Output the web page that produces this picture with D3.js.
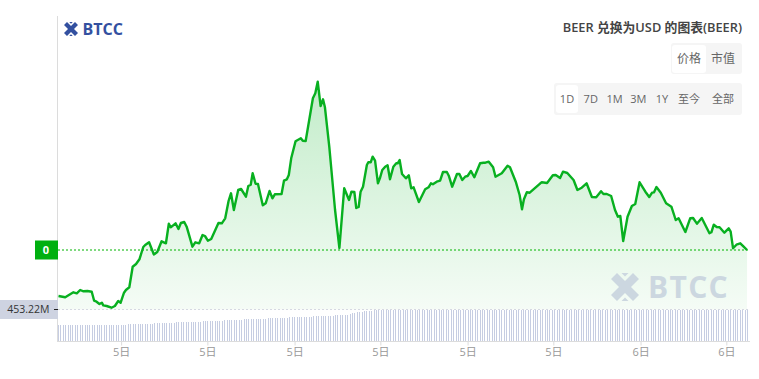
<!DOCTYPE html>
<html>
<head>
<meta charset="utf-8">
<script src="https://cdn.jsdelivr.net/npm/d3@7"></script>
<style>
  html, body { margin: 0; padding: 0; background: #fff; overflow: hidden; }
  svg { display: block; font-family: "Open Sans", "Noto Sans CJK SC", sans-serif; }
</style>
</head>
<body>
<div id="chart"></div>
<script>
// minutes since the start of the 1D window
const priceMinutes = [
  1,15,32,39,46,53,61,70,75,80,86,91,94,101,111,118,125,130,137,141,148,155,162,169,177,181,189,199,206,215,
  224,230,234,244,250,255,262,267,279,285,293,300,305,311,318,333,340,347,354,359,365,374,380,390,395,400,404,410,415,425,
  431,439,445,450,464,469,475,479,484,493,504,508,514,529,534,539,545,550,554,563,575,584,594,604,609,615,619,624,628,633,
  641,644,649,653,658,664,668,673,679,684,689,696,702,705,709,714,722,728,733,738,749,762,769,774,778,786,793,799,807,811,
  818,828,833,839,845,850,857,864,876,883,887,894,903,908,921,933,938,950,958,963,967,973,979,1001,1004,1015,1027,1033,1042,1048,
  1057,1070,1078,1087,1097,1108,1117,1127,1132,1139,1148,1156,1162,1167,1173,1182,1191,1198,1207,1219,1227,1233,1237,1242,1251,1262,1273,1282,1288,1302,
  1312,1318,1326,1336,1352,1356,1361,1367,1373,1383,1392,1396,1401,1408,1416,1423,1430
];
// price, in chart units (the site rounds it to 0 on the label)
const priceValues = [
  54,52.7,57.7,56.7,60,58.7,59,58.3,49.3,48.3,46,47.3,44.7,44,42.3,44,49,47.3,57.3,60,62.7,83.3,86,90.7,103,105,107.7,95.5,98,108.7,
  106.7,126.3,122.7,126.7,121,127,128,123.3,103.3,107.7,106.7,115,114,109.3,111,127,126.7,131.7,149,156.7,140,160,161,153.3,164,165.3,176.7,166.3,166,144.7,
  146.7,159,151.7,155.7,156,169.3,170.7,175,191.7,208.7,211.7,209.3,209,251.7,256.7,268.3,244,250.7,242.7,203.3,140,102,161.7,150,158.3,158,142,143,158.3,163.3,
  185,187.7,187.7,193.3,189.3,166.7,171.7,180,183.3,184.7,170.7,183.3,186.7,186.7,190,176,171.7,174.7,161.7,162.7,148,160.7,162.7,166.7,165.7,168.3,169.3,178,178,174.3,
  163.3,176,176,170,173.3,174,179,172.7,186.7,187.3,187.3,188.3,182.7,173.3,176.7,184.3,182.7,168.3,155,140.7,150.7,157.7,157.3,166.7,167.7,167,174.7,175,172,178.3,
  177,170,160,162.3,166.7,153,152.7,158.7,156,156,154,140,133.3,134,109,133.3,144,146,167.7,158.3,153,157.3,157.7,163,157.3,146.7,143.3,130,131.7,118,
  131.7,132,126.3,132,116.7,117.7,125.3,123,122.7,117.3,121.7,118.3,101.7,105.3,106.7,103.3,100
];
// volume in millions, one bar every 5 minutes
const volumeValues = [
  230,231,231,230,231,232,231,231,230,231,232,231,
  231,231,232,231,230,231,231,232,231,231,231,232,
  232,232,233,233,236,240,244,246,247,247,248,248,
  249,250,250,252,254,256,258,260,262,264,264,265,
  266,268,268,270,270,272,274,276,278,279,280,282,
  284,284,286,288,289,290,292,294,296,298,300,302,
  303,304,306,308,310,312,314,316,317,318,319,320,
  321,322,324,325,327,328,330,332,333,334,336,338,
  340,342,344,345,346,347,349,350,352,353,355,356,
  358,359,360,361,362,364,366,368,370,372,373,374,
  376,386,398,408,416,420,424,428,432,435,438,441,
  444,446,448,450,451,452,453,453,453,453,453,452,
  453,452,453,453,452,453,453,451,453,452,453,453,
  452,453,453,453,452,453,451,453,453,452,453,453,
  453,453,452,453,453,452,453,453,453,451,453,452,
  453,452,453,453,453,452,453,453,452,453,453,453,
  452,453,453,451,453,453,452,453,453,453,452,453,
  453,453,452,453,452,453,453,453,452,453,451,453,
  453,452,453,453,453,452,453,453,453,452,453,453,
  452,453,453,452,453,453,453,451,453,452,453,453,
  453,453,452,453,453,453,452,453,453,453,452,453,
  452,453,453,453,451,453,452,453,453,453,452,453,
  453,452,453,453,453,452,453,453,452,453,453,453,
  452,453,453,453,452,453,453,452,453,453,453.22
];
const tickMinutes = [131, 310, 491, 669, 850, 1028, 1209, 1387];
const tickLabels = ["5日", "5日", "5日", "5日", "5日", "5日", "6日", "6日"];
const typeButtons = ["价格", "市值"];
const rangeButtons = ["1D", "7D", "1M", "3M", "1Y", "至今", "全部"];
const currentPriceLabel = "0";
const currentVolumeLabel = "453.22M";

const width = 759, height = 379;
const svg = d3.select("#chart").append("svg")
  .attr("width", width)
  .attr("height", height);

const x = d3.scaleLinear().domain([0, 1432]).range([58, 748]);
const yPrice = d3.scaleLinear().domain([0, 300]).range([350, 50]);
const yVolume = d3.scaleLinear().domain([0, 453.22]).range([341.3, 309.5]);

const points = priceMinutes.map((m, i) => ({ m, v: priceValues[i] }));
const last = points[points.length - 1];
const paneBottom = yVolume(453.22);

// area gradient
const defs = svg.append("defs");
const grad = defs.append("linearGradient")
  .attr("id", "priceFill")
  .attr("gradientUnits", "userSpaceOnUse")
  .attr("x1", 0).attr("x2", 0)
  .attr("y1", yPrice(d3.max(priceValues)))
  .attr("y2", paneBottom);
grad.append("stop").attr("offset", "0%").attr("stop-color", "#00b01e").attr("stop-opacity", 0.24);
grad.append("stop").attr("offset", "100%").attr("stop-color", "#00b01e").attr("stop-opacity", 0.04);

// logo mark, drawn in a 28x28 box
const logoMark = "M0 6L6 0L14 8L22 0L28 6L20 14L28 22L22 28L14 20L6 28L0 22L8 14ZM10.5 0H17.5L14 3.5ZM10.5 28H17.5L14 24.5Z";

// faint centre watermark
svg.append("text")
  .attr("x", 398).attr("y", 184)
  .attr("text-anchor", "middle")
  .attr("font-size", 24)
  .attr("font-weight", 600)
  .attr("fill", "rgba(0,0,0,0.025)")
  .text("BTCC Exchange Chart");

// volume bars
svg.append("g")
  .attr("shape-rendering", "crispEdges")
  .selectAll("rect")
  .data(volumeValues)
  .join("rect")
  .attr("x", (d, i) => Math.round(x(i * 5)))
  .attr("y", d => yVolume(d))
  .attr("width", 1)
  .attr("height", d => yVolume(0) - yVolume(d))
  .attr("fill", "#c6cde2");

// area + line
svg.append("path")
  .datum(points)
  .attr("fill", "url(#priceFill)")
  .attr("d", d3.area().x(d => x(d.m)).y0(paneBottom).y1(d => yPrice(d.v)));

// corner watermark
const bigLogo = svg.append("g").attr("fill", "#ccd7e0");
bigLogo.append("path")
  .attr("transform", "translate(611,273)")
  .attr("d", logoMark);
bigLogo.append("text")
  .attr("x", 648).attr("y", 298)
  .attr("font-size", 30)
  .attr("font-weight", 700)
  .attr("letter-spacing", 1.3)
  .text("BTCC");

// current price / volume guides
svg.append("line")
  .attr("x1", 58).attr("x2", 748)
  .attr("y1", yPrice(last.v)).attr("y2", yPrice(last.v))
  .attr("stroke", "#00b400")
  .attr("stroke-dasharray", "2,2");
svg.append("line")
  .attr("x1", 58).attr("x2", 748)
  .attr("y1", paneBottom).attr("y2", paneBottom)
  .attr("stroke", "#d6d9e2")
  .attr("stroke-dasharray", "2,2");

svg.append("path")
  .datum(points)
  .attr("fill", "none")
  .attr("stroke", "#08b020")
  .attr("stroke-width", 2.4)
  .attr("stroke-linejoin", "round")
  .attr("d", d3.line().x(d => x(d.m)).y(d => yPrice(d.v)));

// axes
svg.append("line")
  .attr("x1", 57.5).attr("x2", 57.5)
  .attr("y1", 16).attr("y2", 341)
  .attr("stroke", "#dcdcdc");

const xAxis = svg.append("g")
  .attr("transform", "translate(0,341.5)")
  .call(d3.axisBottom(x).tickValues(tickMinutes).tickSize(4).tickPadding(3)
    .tickFormat((d, i) => tickLabels[i]));
xAxis.select(".domain").attr("stroke", "#dcdcdc").attr("d", "M57,0H750");
xAxis.selectAll(".tick line").attr("stroke", "#dcdcdc");
xAxis.selectAll("text")
  .attr("fill", "#999")
  .style("font-size", "11px")
  .style("font-family", '"Open Sans", "Noto Sans CJK SC", sans-serif');

// axis labels on the left
svg.append("rect")
  .attr("x", 35).attr("y", yPrice(last.v) - 9.5)
  .attr("width", 23).attr("height", 19)
  .attr("fill", "#00b010");
svg.append("text")
  .attr("x", 46).attr("y", yPrice(last.v) + 3.8)
  .attr("text-anchor", "middle")
  .attr("font-size", 11)
  .attr("font-weight", 700)
  .attr("fill", "#fff")
  .text(currentPriceLabel);

svg.append("rect")
  .attr("x", 0).attr("y", paneBottom - 9.5)
  .attr("width", 58).attr("height", 19)
  .attr("fill", "#ced3e1");
svg.append("line")
  .attr("x1", 54).attr("x2", 58)
  .attr("y1", paneBottom).attr("y2", paneBottom)
  .attr("stroke", "#222");
svg.append("text")
  .attr("x", 49.5).attr("y", paneBottom + 3.6)
  .attr("text-anchor", "end")
  .attr("font-size", 10.5)
  .attr("fill", "#333")
  .text(currentVolumeLabel);

// logo
const logo = svg.append("g").attr("fill", "#3350a0");
logo.append("path")
  .attr("transform", "translate(64,22) scale(0.5)")
  .attr("d", logoMark);
logo.append("text")
  .attr("x", 82.5).attr("y", 34.5)
  .attr("font-size", 16)
  .attr("font-weight", 700)
  .text("BTCC");

// title
svg.append("text")
  .attr("x", 742).attr("y", 32)
  .attr("text-anchor", "end")
  .attr("font-size", 12.8)
  .attr("font-weight", 600)
  .attr("fill", "#444")
  .text("BEER 兑换为USD 的图表(BEER)");

// button groups
svg.append("rect")
  .attr("x", 671).attr("y", 43).attr("width", 71).attr("height", 31)
  .attr("rx", 3).attr("fill", "#f5f5f5");
svg.append("rect")
  .attr("x", 672).attr("y", 45).attr("width", 34).attr("height", 28)
  .attr("rx", 3).attr("fill", "#fff");
svg.append("g")
  .selectAll("text")
  .data(typeButtons)
  .join("text")
  .attr("x", (d, i) => 689 + i * 34)
  .attr("y", 63)
  .attr("text-anchor", "middle")
  .attr("font-size", 12)
  .attr("fill", "#666")
  .text(d => d);

const rangeCenters = d3.scalePoint().domain(rangeButtons.slice(0, 5)).range([567, 662]);
svg.append("rect")
  .attr("x", 554).attr("y", 83).attr("width", 188).attr("height", 32)
  .attr("rx", 3).attr("fill", "#f5f5f5");
svg.append("rect")
  .attr("x", 556).attr("y", 85).attr("width", 22).attr("height", 28)
  .attr("rx", 3).attr("fill", "#fff");
svg.append("g")
  .selectAll("text")
  .data(rangeButtons)
  .join("text")
  .attr("x", (d, i) => i < 5 ? rangeCenters(d) : 689 + (i - 5) * 34)
  .attr("y", 103)
  .attr("text-anchor", "middle")
  .attr("font-size", 11)
  .attr("fill", "#666")
  .text(d => d);
</script>
</body>
</html>
